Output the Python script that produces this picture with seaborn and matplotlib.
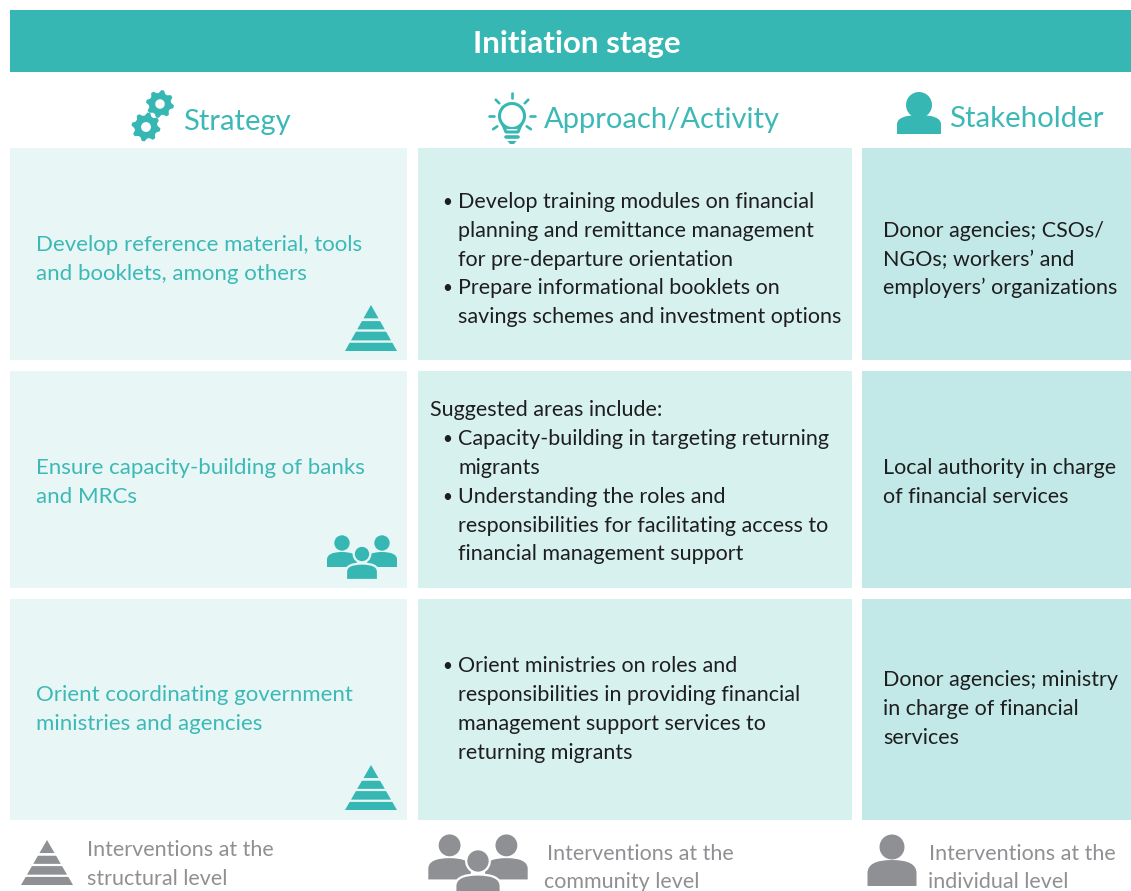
import numpy as np
import matplotlib
matplotlib.use("Agg")
import matplotlib.pyplot as plt
from matplotlib.patches import Rectangle, Polygon, Circle, PathPatch
from matplotlib.path import Path
import seaborn as sns

title = "Initiation stage"
headers = ["Strategy", "Approach/Activity", "Stakeholder"]
strategy = [["Develop reference material, tools", "and booklets, among others"],
            ["Ensure capacity-building of banks", "and MRCs"],
            ["Orient coordinating government", "ministries and agencies"]]
activity = [["•|Develop training modules on financial", "|planning and remittance management",
             "|for pre-departure orientation", "•|Prepare informational booklets on",
             "|savings schemes and investment options"],
            ["Suggested areas include:", "•|Capacity-building in targeting returning", "|migrants",
             "•|Understanding the roles and", "|responsibilities for facilitating access to",
             "|financial management support"],
            ["•|Orient ministries on roles and", "|responsibilities in providing financial",
             "|management support services to", "|returning migrants"]]
stakeholder = [["Donor agencies; CSOs/", "NGOs; workers’ and", "employers’ organizations"],
               ["Local authority in charge", "of financial services"],
               ["Donor agencies; ministry", "in charge of financial", "services"]]
legend_labels = [["Interventions at the", "structural level"],
                 ["Interventions at the", "community level"],
                 ["Interventions at the", "individual level"]]

TEAL = "#36B7B4"
TEXT_TEAL = "#3CB9B6"
COLS = ["#E8F7F6", "#D7F1EF", "#C2E9E8"]
DARK = "#1E1E1E"
GREY = "#8F9093"

sns.set_theme(style="white")
plt.rcParams["font.family"] = ["Lato", "DejaVu Sans"]
fig, ax = plt.subplots(figsize=(11.31, 8.91), dpi=100)
fig.subplots_adjust(0, 0, 1, 1)
ax.set_xlim(0, 1131)
ax.set_ylim(891, 0)
ax.axis("off")
sns.despine(ax=ax, left=True, bottom=True)


def box(x0, y0, x1, y1, c):
    ax.add_patch(Rectangle((x0, y0), x1 - x0, y1 - y0, fc=c, ec="none"))


def pyramid(cx, top, bottom, halfw, c):
    h = bottom - top
    for f0, f1 in [(0, .29), (.35, .53), (.58, .77), (.82, 1.0)]:
        y0, y1 = top + f0 * h, top + f1 * h
        w0, w1 = halfw * f0, halfw * f1
        ax.add_patch(Polygon([(cx - w0, y0), (cx + w0, y0), (cx + w1, y1), (cx - w1, y1)], fc=c, ec="none"))


def person(cx, head_y, r, body_top, body_bottom, halfw, c, edge=None):
    h = body_bottom - body_top
    verts = [(cx - halfw, body_bottom), (cx - halfw, body_top + h * 0.5),
             (cx - halfw, body_top), (cx, body_top),
             (cx + halfw, body_top), (cx + halfw, body_top + h * 0.5),
             (cx + halfw, body_bottom), (cx - halfw, body_bottom)]
    codes = [Path.MOVETO, Path.LINETO, Path.CURVE3, Path.CURVE3, Path.CURVE3, Path.CURVE3, Path.LINETO, Path.CLOSEPOLY]
    lw = 1.6 if edge else 0
    ax.add_patch(PathPatch(Path(verts, codes), fc=c, ec=edge or "none", lw=lw))
    ax.add_patch(Circle((cx, head_y), r, fc=c, ec=edge or "none", lw=lw))


def people(cx, top, s, c, bg):
    person(cx - 20 * s, top + 8 * s, 7.7 * s, top + 17 * s, top + 32 * s, 15 * s, c)
    person(cx + 20 * s, top + 8 * s, 7.7 * s, top + 17 * s, top + 32 * s, 15 * s, c)
    person(cx, top + 19 * s, 8.3 * s, top + 28.5 * s, top + 45 * s, 16 * s, c, edge=bg)


def gear(cx, cy, r, c):
    n = 8
    ang = np.linspace(0, 2 * np.pi, n * 4, endpoint=False) + np.pi / n / 4
    rad = np.tile([r, r, r * 0.8, r * 0.8], n)
    ax.add_patch(Polygon(np.c_[cx + rad * np.cos(ang), cy + rad * np.sin(ang)], fc=c, ec="none"))
    ax.add_patch(Circle((cx, cy), r * 0.34, fc="white", ec="none"))


def bulb(cx, cy, c):
    ax.add_patch(Circle((cx, cy), 12.5, fc="none", ec=c, lw=2.2))
    ax.add_patch(Polygon([(cx - 7, cy + 13), (cx + 7, cy + 13), (cx + 7, cy + 17), (cx - 7, cy + 17)], fc="white", ec="none"))
    ax.plot([cx - 9, cx - 6, cx + 6, cx + 9], [cy + 9, cy + 16, cy + 16, cy + 9], color=c, lw=2.2, solid_capstyle="round")
    ax.plot([cx - 6, cx + 6], [cy + 21, cy + 21], color=c, lw=2.6)
    ax.add_patch(Polygon([(cx - 4.5, cy + 25), (cx + 4.5, cy + 25), (cx + 2, cy + 28), (cx - 2, cy + 28)], fc=c, ec="none"))
    for a in np.deg2rad([0, 45, 90, 135, 180, -35, 215]):
        ca, sa = np.cos(a), np.sin(a)
        ax.plot([cx + 18 * ca, cx + 23 * ca], [cy - 18 * sa, cy - 23 * sa], color=c, lw=1.9)


def lines(items, x, ys, color, size, bullet_x=None, sub_x=None):
    for line, y in zip(items, ys):
        if "|" in line:
            b, t = line.split("|")
            if b:
                ax.text(bullet_x, y, b, color=color, fontsize=size * 0.8, va="center", ha="left")
            ax.text(sub_x, y, t, color=color, fontsize=size, va="center", ha="left")
        else:
            ax.text(x, y, line, color=color, fontsize=size, va="center", ha="left")


# Header band and column titles
box(10, 10, 1131, 72, TEAL)
ax.text(577, 44, title, color="white", fontsize=22.5, fontweight="bold", ha="center", va="center")
ax.text(183, 122, headers[0], color=TEXT_TEAL, fontsize=21, ha="left", va="center")
ax.text(544, 120, headers[1], color=TEXT_TEAL, fontsize=21, ha="left", va="center")
ax.text(949, 119, headers[2], color=TEXT_TEAL, fontsize=21.2, ha="left", va="center")
gear(160, 104, 14, TEAL)
gear(146, 127, 14.5, TEAL)
bulb(512, 116, TEAL)
person(919, 105, 13, 115, 134, 22, TEAL)

# Table cells
rows = [(148, 360), (371, 588), (599, 820)]
cols = [(10, 407), (418, 852), (862, 1131)]
for (y0, y1) in rows:
    for (x0, x1), c in zip(cols, COLS):
        box(x0, y0, x1, y1, c)

SIZE = 15.45
SIZE_STRATEGY = 16.05
strategy_y = [[245, 274], [468, 497], [695, 724]]
activity_y = [[202, 231, 260, 288, 317], [410, 439, 468, 497, 526, 554], [666, 695, 724, 753]]
stake_y = [[231, 260, 288], [468, 497], [680, 709, 738]]
for i in range(3):
    lines(strategy[i], 36, strategy_y[i], TEXT_TEAL, SIZE_STRATEGY)
    lines(activity[i], 430, activity_y[i], DARK, SIZE, bullet_x=442, sub_x=458)
    lines(stakeholder[i], 883, stake_y[i], DARK, SIZE)

# Icons inside the first column
pyramid(371, 305, 351, 26, TEAL)
pyramid(371, 765, 810, 26, TEAL)
people(362, 535, 1.0, TEAL, COLS[0])

# Legend row
pyramid(47, 840, 885, 26, GREY)
people(478, 834, 1.42, GREY, "white")
person(892, 847, 12.5, 860, 886, 24.5, GREY)
lines(legend_labels[0], 87, [850, 879], GREY, SIZE)
lines(legend_labels[1][:1], 547, [854], GREY, SIZE)
lines(legend_labels[1][1:], 544, [882], GREY, SIZE)
lines(legend_labels[2][:1], 929, [854], GREY, SIZE)
lines(legend_labels[2][1:], 928, [882], GREY, SIZE)

fig.savefig("out.png", dpi=100)
